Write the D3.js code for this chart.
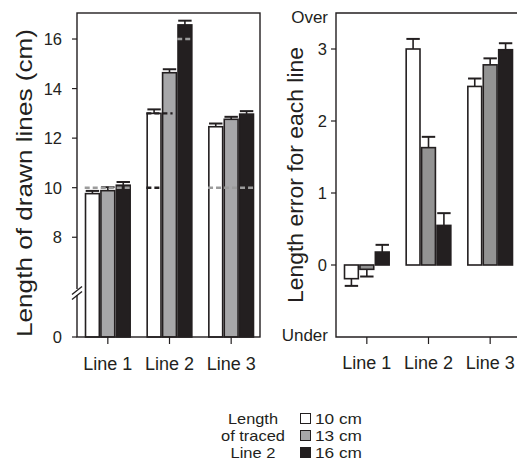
<!DOCTYPE html>
<html><head><meta charset="utf-8">
<script src="https://cdn.jsdelivr.net/npm/d3@7"></script>
<style>
html,body{margin:0;padding:0;background:#fff;}
text{font-family:"Liberation Sans",Arial,Helvetica,sans-serif;fill:#231f20;}
</style></head>
<body><svg id="c" width="517" height="463"></svg>
<script>
// ---- data ----
const categories = ["Line 1", "Line 2", "Line 3"];
const conditions = ["10 cm", "13 cm", "16 cm"];
// Left panel: length of drawn lines (cm)
const drawn10 = [9.76, 13.0, 12.46];
const drawn13 = [9.88, 14.64, 12.76];
const drawn16 = [10.1, 16.57, 12.97];
const drawnErr10 = [0.11, 0.16, 0.13];
const drawnErr13 = [0.14, 0.14, 0.10];
const drawnErr16 = [0.13, 0.17, 0.12];
// Right panel: length error for each line
const error10 = [-0.19, 3.0, 2.48];
const error13 = [-0.06, 1.63, 2.78];
const error16 = [0.18, 0.55, 2.99];
const errorErr10 = [0.10, 0.14, 0.11];
const errorErr13 = [0.10, 0.15, 0.09];
const errorErr16 = [0.10, 0.17, 0.09];
// tick labels
const leftTicks = [0, 8, 10, 12, 14, 16];
const rightTicks = [0, 1, 2, 3];
// target (true) lengths shown as dashed lines: group, value, first/last bar index covered
const targetLines = [
  {cat:"Line 1", value:10, from:0, to:3, tone:"grey"},
  {cat:"Line 2", value:10, from:0, to:1, tone:"black"},
  {cat:"Line 2", value:13, from:0, to:1.7, tone:"black"},
  {cat:"Line 2", value:16, from:2, to:3, tone:"grey"},
  {cat:"Line 3", value:10, from:0, to:3, tone:"grey"}
];
const legendTitle = ["Length", "of traced", "Line 2"];

// ---- drawing ----
const svg = d3.select("#c");
const INK = "#231f20";
const fillsL = ["#ffffff", "#a7a7a9", INK];
const fillsR = ["#ffffff", "#939393", INK];

function rows(a, b, c, ea, eb, ec) {
  return categories.map((cat, i) => ({cat, vals: [
    {cond: conditions[0], v: a[i], e: ea[i]},
    {cond: conditions[1], v: b[i], e: eb[i]},
    {cond: conditions[2], v: c[i], e: ec[i]}]}));
}

function panel(opt) {
  const g = svg.append("g");
  const x = d3.scaleBand().domain(categories).range(opt.xr).paddingInner(0.25).paddingOuter(0.125);
  const xs = d3.scaleBand().domain(conditions).range([0, x.bandwidth()]);
  const y = opt.y;
  const base = y(0);
  const grp = g.selectAll("g.grp").data(opt.data).join("g").attr("transform", d => `translate(${x(d.cat)},0)`);
  grp.each(function(d) {
    const gg = d3.select(this);
    d.vals.forEach(b => {
      const x0 = xs(b.cond), w = xs.bandwidth();
      const end = b.v >= 0 ? b.v + b.e : b.v - b.e;
      gg.append("line").attr("x1", x0 + w/2).attr("x2", x0 + w/2)
        .attr("y1", y(b.v)).attr("y2", y(end)).attr("stroke", INK).attr("stroke-width", 1.6);
      gg.append("line").attr("x1", x0 + 1).attr("x2", x0 + w - 1)
        .attr("y1", y(end)).attr("y2", y(end)).attr("stroke", INK).attr("stroke-width", 2);
    });
  });
  grp.selectAll("rect").data(d => d.vals).join("rect")
    .attr("x", d => xs(d.cond) + 0.8)
    .attr("width", xs.bandwidth() - 1.6)
    .attr("y", d => Math.min(y(d.v), base))
    .attr("height", d => Math.abs(y(d.v) - base))
    .attr("fill", (d, i) => opt.fills[i])
    .attr("stroke", INK).attr("stroke-width", 1.6);
  return {g, x, xs};
}

// LEFT PANEL
const yL = d3.scaleLinear().domain([0, 5.75, 17.05]).range([337, 293, 13]);
const L = panel({xr: [77, 262], y: yL, fills: fillsL,
  data: rows(drawn10, drawn13, drawn16, drawnErr10, drawnErr13, drawnErr16)});
targetLines.forEach(t => {
  const x0 = L.x(t.cat) + L.xs.step() * t.from;
  const x1 = L.x(t.cat) + L.xs.step() * t.to;
  svg.append("line").attr("x1", x0).attr("x2", x1).attr("y1", yL(t.value)).attr("y2", yL(t.value))
    .attr("stroke", t.tone === "grey" ? "#9b9b9b" : INK).attr("stroke-width", 2.4)
    .attr("stroke-dasharray", "5,3");
});
svg.append("rect").attr("x", 77).attr("y", 13).attr("width", 183).attr("height", 324)
  .attr("fill", "none").attr("stroke", INK).attr("stroke-width", 1.4);
leftTicks.forEach(v => {
  svg.append("line").attr("x1", 72).attr("x2", 77).attr("y1", yL(v)).attr("y2", yL(v))
    .attr("stroke", INK).attr("stroke-width", 1.2);
  svg.append("text").attr("x", 62).attr("y", yL(v)).attr("dy", "0.36em")
    .attr("text-anchor", "end").attr("font-size", 16.5).text(v);
});
const yb = yL(5.75);
svg.append("rect").attr("x", 74).attr("y", yb - 4).attr("width", 6).attr("height", 6).attr("fill", "#fff");
[-2.5, 2.5].forEach(o => {
  svg.append("line").attr("x1", 72).attr("x2", 82).attr("y1", yb + o + 4).attr("y2", yb + o - 4)
    .attr("stroke", INK).attr("stroke-width", 1.4);
});
categories.forEach(c => {
  const cx = L.x(c) + L.x.bandwidth()/2;
  svg.append("line").attr("x1", cx).attr("x2", cx).attr("y1", 337).attr("y2", 344).attr("stroke", INK).attr("stroke-width", 1.2);
  svg.append("text").attr("x", cx).attr("y", 370).attr("text-anchor", "middle").attr("font-size", 18).text(c);
});
svg.append("text").attr("transform", "translate(32,183) rotate(-90)").attr("text-anchor", "middle")
  .attr("font-size", 22).attr("textLength", 308).attr("lengthAdjust", "spacingAndGlyphs")
  .text("Length of drawn lines (cm)");

// RIGHT PANEL
const yR = d3.scaleLinear().domain([-1, 3.5]).range([337, 13]);
const R = panel({xr: [336, 521], y: yR, fills: fillsR,
  data: rows(error10, error13, error16, errorErr10, errorErr13, errorErr16)});
svg.append("path").attr("d", "M517,13H336V337H517").attr("fill", "none").attr("stroke", INK).attr("stroke-width", 1.4);
rightTicks.forEach(v => {
  svg.append("line").attr("x1", 331).attr("x2", 336).attr("y1", yR(v)).attr("y2", yR(v))
    .attr("stroke", INK).attr("stroke-width", 1.2);
  svg.append("text").attr("x", 327).attr("y", yR(v)).attr("dy", "0.36em")
    .attr("text-anchor", "end").attr("font-size", 16.5).text(v);
});
svg.append("text").attr("x", 328).attr("y", yR(3.5) + 4).attr("dy", "0.36em").attr("text-anchor", "end").attr("font-size", 17).text("Over");
svg.append("text").attr("x", 328).attr("y", yR(-1) - 2).attr("dy", "0.36em").attr("text-anchor", "end").attr("font-size", 17).text("Under");
categories.forEach(c => {
  const cx = R.x(c) + R.x.bandwidth()/2;
  svg.append("line").attr("x1", cx).attr("x2", cx).attr("y1", 337).attr("y2", 344).attr("stroke", INK).attr("stroke-width", 1.2);
  svg.append("text").attr("x", cx).attr("y", 369).attr("text-anchor", "middle").attr("font-size", 18).text(c);
});
svg.append("text").attr("transform", "translate(303,175) rotate(-90)").attr("text-anchor", "middle")
  .attr("font-size", 22).attr("textLength", 256).attr("lengthAdjust", "spacingAndGlyphs")
  .text("Length error for each line");

// LEGEND
const titleWidths = [50, 64, 45];
legendTitle.forEach((t, i) => {
  svg.append("text").attr("x", 253).attr("y", 424 + i * 17).attr("text-anchor", "middle").attr("font-size", 15)
    .attr("textLength", titleWidths[i]).attr("lengthAdjust", "spacingAndGlyphs").text(t);
});
conditions.forEach((c, i) => {
  svg.append("rect").attr("x", 300.5).attr("y", 413.5 + i * 17).attr("width", 10).attr("height", 10)
    .attr("fill", fillsL[i]).attr("stroke", INK).attr("stroke-width", 1);
  svg.append("text").attr("x", 315).attr("y", 424 + i * 17).attr("font-size", 15)
    .attr("textLength", 47).attr("lengthAdjust", "spacingAndGlyphs").text(c);
});
</script></body></html>
